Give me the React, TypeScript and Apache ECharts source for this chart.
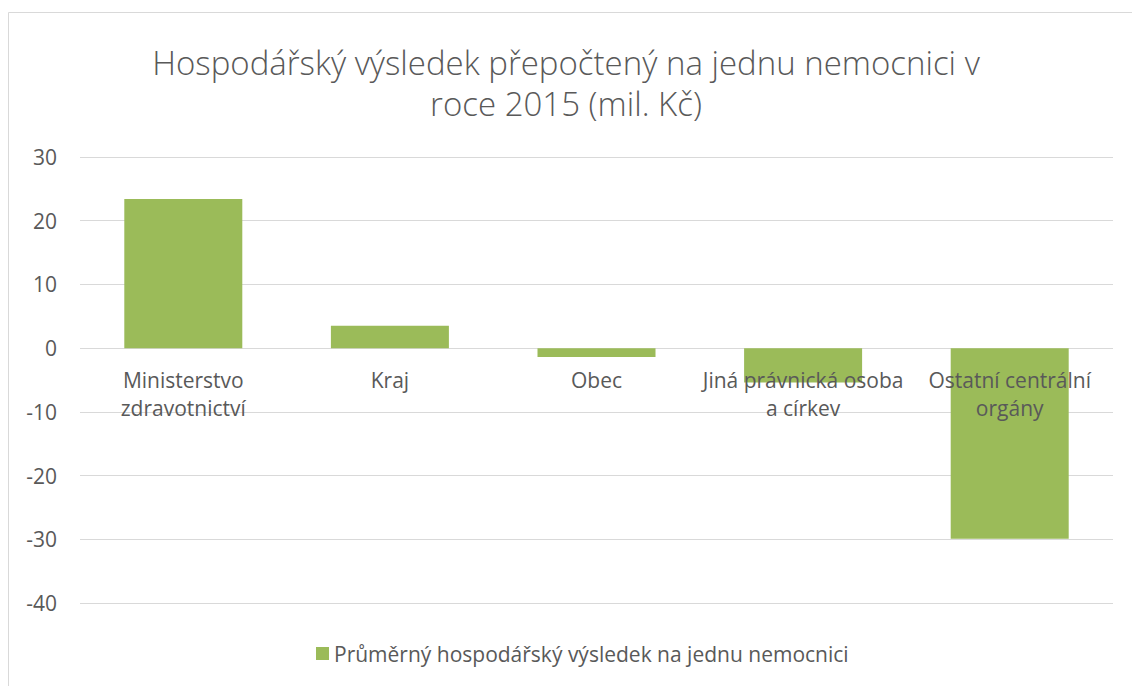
import React, { useEffect, useRef } from "react";
import * as echarts from "echarts";

const titleLines = ["Hospodářský výsledek přepočtený na jednu nemocnici v", "roce 2015 (mil. Kč)"];
const categories = [
  "Ministerstvo\nzdravotnictví",
  "Kraj",
  "Obec",
  "Jiná právnická osoba\na církev",
  "Ostatní centrální\norgány",
];
const seriesName = "Průměrný hospodářský výsledek na jednu nemocnici";
const values = [23.4, 3.5, -1.4, -5.4, -29.9];
const yMin = -40;
const yMax = 30;
const yInterval = 10;

export default function App() {
  const ref = useRef<HTMLDivElement>(null);
  useEffect(() => {
    if (!ref.current) return;
    const chart = echarts.init(ref.current, null, { renderer: "svg" });
    const font = "'Open Sans', 'Noto Sans', sans-serif";
    const gridTop = 157;
    const gridBottom = 83;
    const gridHeight = 686 - gridTop - gridBottom;
    // offset to put the category axis at value 0
    const zeroOffset = -((0 - yMin) / (yMax - yMin)) * gridHeight;
    const titleStyle = {
      fontFamily: font,
      fontSize: 33,
      fontWeight: 300,
      color: "#595959",
      lineHeight: 40,
    };
    chart.setOption({
      animation: false,
      backgroundColor: "#ffffff",
      textStyle: { fontFamily: font },
      graphic: [
        {
          type: "rect",
          shape: { x: 8.5, y: 12.5, width: 1200, height: 800 },
          style: { fill: "none", stroke: "#d9d9d9", lineWidth: 1 },
          silent: true,
          z: -1,
        },
      ],
      title: [
        { text: titleLines[0], left: "center", top: 42, padding: 0, textStyle: titleStyle },
        { text: titleLines[1], left: "center", top: 83, padding: 0, textStyle: titleStyle },
      ],
      legend: {
        top: 643,
        left: 316,
        padding: 0,
        itemWidth: 13,
        itemHeight: 13,
        itemGap: 5,
        icon: "rect",
        textStyle: { fontFamily: font, fontSize: 21, color: "#595959" },
        data: [seriesName],
      },
      grid: { left: 80, right: 19, top: gridTop, bottom: gridBottom, containLabel: false },
      xAxis: {
        type: "category",
        data: categories,
        position: "bottom",
        offset: zeroOffset,
        axisLine: { show: false, onZero: false },
        axisTick: { show: false },
        axisLabel: {
          interval: 0,
          margin: 18,
          fontFamily: font,
          fontSize: 21,
          lineHeight: 28,
          color: "#595959",
          verticalAlign: "top",
        },
        z: 10,
      },
      yAxis: {
        type: "value",
        min: yMin,
        max: yMax,
        interval: yInterval,
        axisLine: { show: false },
        axisTick: { show: false },
        splitLine: { lineStyle: { color: "#d9d9d9", width: 1 } },
        axisLabel: { fontFamily: font, fontSize: 21, color: "#595959", margin: 23 },
      },
      series: [
        {
          name: seriesName,
          type: "bar",
          data: values,
          barWidth: 118,
          itemStyle: { color: "#9BBB59" },
          z: 2,
        },
      ],
    });
    return () => chart.dispose();
  }, []);
  return (
    <div
      ref={ref}
      style={{ position: "absolute", left: 0, top: 0, width: 1132, height: 686 }}
    />
  );
}
